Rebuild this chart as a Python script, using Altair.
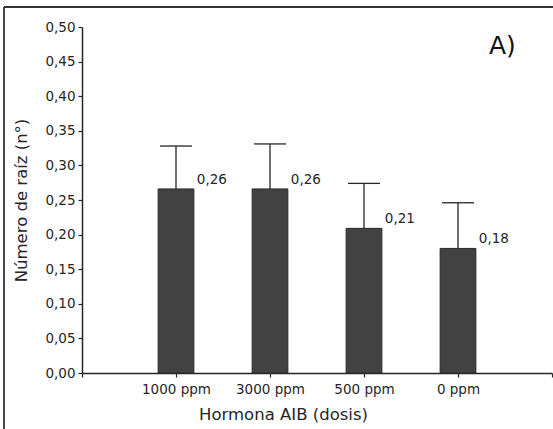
import altair as alt
import pandas as pd

categories = ["1000 ppm", "3000 ppm", "500 ppm", "0 ppm"]
means = [0.266, 0.266, 0.209, 0.180]
upper = [0.328, 0.331, 0.274, 0.246]
value_labels = ["0,26", "0,26", "0,21", "0,18"]
y_ticks = [0.0, 0.05, 0.10, 0.15, 0.20, 0.25, 0.30, 0.35, 0.40, 0.45, 0.50]

df = pd.DataFrame({
    "cat": categories,
    "pos": list(range(1, len(categories) + 1)),
    "mean": means,
    "upper": upper,
    "lab": value_labels,
})

FONT = "DejaVu Sans"
DARK = "#262626"
half_bar = 0.19
half_cap = 0.17

label_arr = "[''," + ",".join(f"'{c}'" for c in categories) + ",'']"

xscale = alt.Scale(domain=[0, 5], nice=False, zero=False)
yscale = alt.Scale(domain=[0, 0.5], nice=False)

xaxis = alt.Axis(
    values=[0, 1, 2, 3, 4, 5],
    labelExpr=f"{label_arr}[datum.value]",
    title="Hormona AIB (dosis)",
    titleFontSize=16.5, titleFont=FONT, titleFontWeight="normal", titleColor=DARK,
    titleX=201, titleAlign="center", titlePadding=11,
    labelFont=FONT, labelFontSize=13.5, labelColor=DARK, labelPadding=5,
    labelOverlap=False,
    tickSize=4, tickColor=DARK, domainColor=DARK, domainWidth=1.5, tickWidth=1.2,
    grid=False, labelFlush=False,
)
yaxis = alt.Axis(
    values=y_ticks,
    labelExpr="replace(format(datum.value, '.2f'), '.', ',')",
    title="Número de raíz (n°)",
    titleFontSize=16.5, titleFont=FONT, titleFontWeight="normal", titleColor=DARK,
    titleX=-61, titleY=173, titleAngle=-90, titleBaseline="middle", titleAlign="center",
    labelFont=FONT, labelFontSize=13.5, labelColor=DARK, labelPadding=3,
    labelOverlap=False,
    tickSize=4, tickColor=DARK, domainColor=DARK, domainWidth=1.5, tickWidth=1.2,
    grid=False,
)

base = alt.Chart(df).transform_calculate(
    x0=f"datum.pos - {half_bar}",
    x1=f"datum.pos + {half_bar}",
    c0=f"datum.pos - {half_cap}",
    c1=f"datum.pos + {half_cap}",
)

bars = base.mark_rect(color="#424242", stroke="#2a2a2a", strokeWidth=1).encode(
    x=alt.X("x0:Q", scale=xscale, axis=xaxis),
    x2="x1:Q",
    y=alt.Y("mean:Q", scale=yscale, axis=yaxis),
    y2=alt.datum(0),
)

stems = base.mark_rule(color=DARK, strokeWidth=1.3).encode(
    x=alt.X("pos:Q", scale=xscale, axis=xaxis),
    y=alt.Y("mean:Q", scale=yscale, axis=yaxis),
    y2="upper:Q",
)

caps = base.mark_rule(color=DARK, strokeWidth=1.3).encode(
    x=alt.X("c0:Q", scale=xscale, axis=xaxis),
    x2="c1:Q",
    y=alt.Y("upper:Q", scale=yscale, axis=yaxis),
)

texts = base.mark_text(font=FONT, fontSize=13.5, color=DARK, align="left",
                       baseline="middle", dx=3, dy=-9).encode(
    x=alt.X("x1:Q", scale=xscale, axis=xaxis),
    y=alt.Y("mean:Q", scale=yscale, axis=yaxis),
    text="lab:N",
)

panel = alt.Chart(pd.DataFrame({"t": ["A)"]})).mark_text(
    font=FONT, fontSize=25, color="#111111", align="left", baseline="middle"
).encode(x=alt.value(407), y=alt.value(19), text="t:N")

frame_left = alt.Chart(pd.DataFrame({"a": [0]})).mark_rule(
    color="#333333", strokeWidth=1.8, clip=False
).encode(x=alt.value(-78), y=alt.value(-20), y2=alt.value(410))

frame_top = alt.Chart(pd.DataFrame({"a": [0]})).mark_rule(
    color="#333333", strokeWidth=1.8, clip=False
).encode(x=alt.value(-78), x2=alt.value(475), y=alt.value(-20))

chart = alt.layer(bars, stems, caps, texts, panel, frame_left, frame_top).properties(
    width=470,
    height=346,
    autosize=alt.AutoSizeParams(type="none"),
    padding={"left": 82, "top": 27, "right": 1, "bottom": 56},
    background="white",
).configure_view(stroke=None)

chart.save("out.html", embed_options={"renderer": "svg", "actions": False})
